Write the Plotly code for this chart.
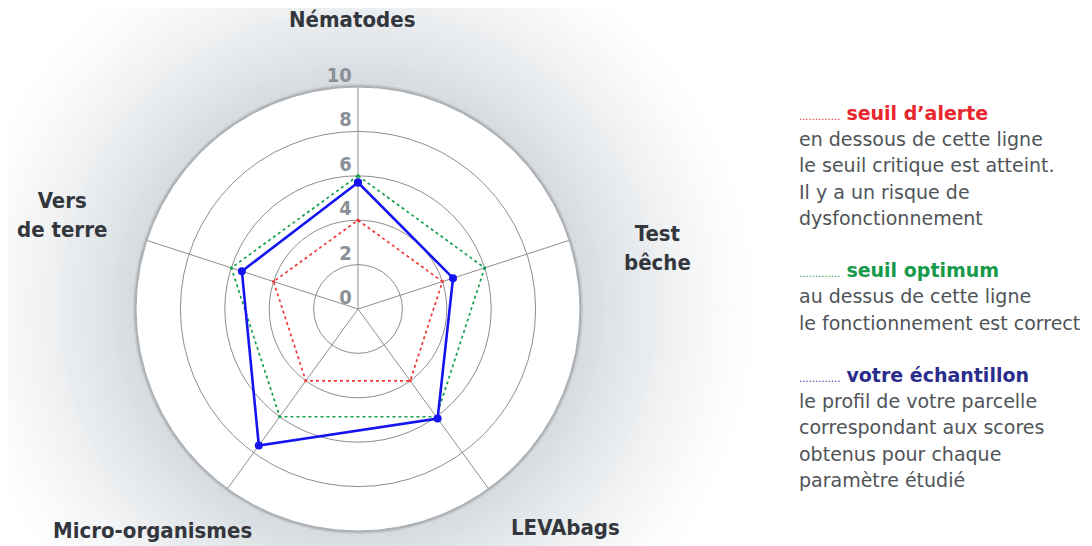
import plotly.graph_objects as go

# axes, clockwise from the top
categories = ['Nématodes', 'Test bêche', 'LEVAbags', 'Micro-organismes', 'Vers de terre']
axis_labels = ['Nématodes', 'Test<br>bêche', 'LEVAbags', 'Micro-organismes', 'Vers<br>de terre']

seuil_alerte = [4, 4, 4, 4, 4]
seuil_optimum = [6, 6, 6, 6, 6]
echantillon = [5.7, 4.5, 6.1, 7.6, 5.5]

radial_ticks = [0, 2, 4, 6, 8, 10]

legend_lines = [
    ('head', '#e8262b', 'seuil d’alerte'),
    ('body', None, 'en dessous de cette ligne'),
    ('body', None, 'le seuil critique est atteint.'),
    ('body', None, 'Il y a un risque de'),
    ('body', None, 'dysfonctionnement'),
    None,
    ('head', '#179a4c', 'seuil optimum'),
    ('body', None, 'au dessus de cette ligne'),
    ('body', None, 'le fonctionnement est correct'),
    None,
    ('head', '#2b2d8c', 'votre échantillon'),
    ('body', None, 'le profil de votre parcelle'),
    ('body', None, 'correspondant aux scores'),
    ('body', None, 'obtenus pour chaque'),
    ('body', None, 'paramètre étudié'),
]

# the page puts an 8px body margin round the figure
OFF = 8
W, H = 1092 - OFF, 546 - OFF
# polar area in window pixels: centre and radius
cx, cy, R = 358 - OFF, 309 - OFF, 222
dom_x = [(cx - R) / W, (cx + R) / W]
dom_y = [(H - cy - R) / H, (H - cy + R) / H]

# where the category names sit (window pixels, label centres)
label_pos = [(352, 20), (657, 248), (565, 527), (152, 530), (62, 215)]

bold_narrow = 'DejaVu Sans Condensed, Liberation Sans Narrow, Arial Narrow'


def closed(vals):
    return list(vals) + [vals[0]]


theta = closed(categories)

fig = go.Figure()

fig.add_trace(go.Scatterpolar(
    r=closed(seuil_alerte), theta=theta, mode='lines+markers',
    line=dict(color='#f03a3a', width=1.7, dash='dot'),
    marker=dict(size=3, color='#f03a3a'),
    hoverinfo='skip'
))
fig.add_trace(go.Scatterpolar(
    r=closed(seuil_optimum), theta=theta, mode='lines+markers',
    line=dict(color='#16a04e', width=1.7, dash='dot'),
    marker=dict(size=3, color='#16a04e'),
    hoverinfo='skip'
))
fig.add_trace(go.Scatterpolar(
    r=closed(echantillon), theta=theta, mode='lines+markers',
    line=dict(color='#1414f0', width=2.6),
    marker=dict(size=8, color='#1414f0'),
    hoverinfo='skip'
))

# radial tick labels, sitting just above each ring on the top spoke
fig.add_trace(go.Scatterpolar(
    r=radial_ticks, theta=[categories[0]] * len(radial_ticks),
    mode='text', text=[f'{v} ' for v in radial_ticks],
    textposition='top left',
    textfont=dict(family=bold_narrow, size=20, color='#8b9096', weight='bold'),
    cliponaxis=False, hoverinfo='skip'
))

# soft grey halo round the disc (opaque rings, darkest next to the edge)
anchor = dict(xref='paper', yref='paper', layer='below',
              xsizemode='pixel', ysizemode='pixel',
              xanchor=cx / W, yanchor=(H - cy) / H)
edge_dark = (42, 36, 32)
span = 185
n = 45
shapes = []
for i in range(n + 1):
    t = 1 - i / n
    rad = R + 3 + span * t
    f = (1 - t) ** 1.4
    col = 'rgb({},{},{})'.format(*[round(255 - d * f) for d in edge_dark])
    shapes.append(dict(type='circle', x0=-rad, x1=rad, y0=-rad, y1=rad,
                       line=dict(width=0), fillcolor=col, **anchor))
for rad, col in [(R + 3, 'rgb(198,202,206)'), (R + 1.5, 'rgb(172,177,182)')]:
    shapes.append(dict(type='circle', x0=-rad, x1=rad, y0=-rad, y1=rad,
                       line=dict(width=0), fillcolor=col, **anchor))

annotations = []

for lab, (px, py) in zip(axis_labels, label_pos):
    annotations.append(dict(
        x=(px - OFF) / W, y=1 - (py - OFF) / H, xref='paper', yref='paper',
        xanchor='center', yanchor='middle', showarrow=False,
        text=f'<b>{lab}</b>', align='center',
        font=dict(family=bold_narrow, size=22, color='#33373d')
    ))

for i, item in enumerate(legend_lines):
    if item is None:
        continue
    kind, color, txt = item
    ypx = 113 + 26.2 * i - OFF
    if kind == 'head':
        text = ("<span style='font-size:10px'>.............</span> "
                f"<b>{txt}</b>")
        font = dict(family='DejaVu Sans', size=19, color=color)
    else:
        text = txt
        font = dict(family='DejaVu Sans', size=19, color='#505458')
    annotations.append(dict(
        x=(797 - OFF) / W, y=1 - ypx / H, xref='paper', yref='paper',
        xanchor='left', yanchor='middle', showarrow=False,
        text=text, font=font
    ))

fig.update_layout(
    width=W, height=H,
    margin=dict(l=0, r=0, t=0, b=0),
    paper_bgcolor='white',
    showlegend=False,
    shapes=shapes,
    annotations=annotations,
    polar=dict(
        domain=dict(x=dom_x, y=dom_y),
        bgcolor='white',
        radialaxis=dict(
            range=[0, 10], tickvals=radial_ticks, showticklabels=False,
            ticks='', showline=False, gridcolor='#8e8e8e', gridwidth=1
        ),
        angularaxis=dict(
            rotation=90, direction='clockwise', showticklabels=False,
            ticks='', gridcolor='#8e8e8e', gridwidth=1,
            linecolor='#a8acb0', linewidth=1
        )
    )
)

fig.write_html("out.html")
